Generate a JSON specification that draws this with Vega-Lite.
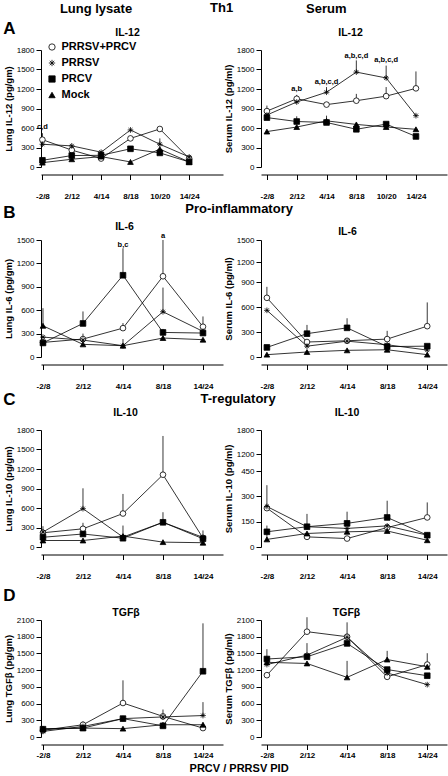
{
"$schema":"https://vega.github.io/schema/vega-lite/v6.json",
"padding":{"top":2,"left":3,"right":1,"bottom":1},
"title":{"text":"Th1","fontSize":13,"anchor":"middle","frame":"bounds","dx":-3.5,"offset":-11.9},
"bounds":"flush",
"spacing":190,
"resolve":{"scale":{"fill":"independent","shape":"independent","stroke":"independent"},"legend":{"fill":"independent","shape":"independent","stroke":"independent"}},
"config":{
 "font":"Liberation Sans",
 "view":{"stroke":null},
 "axis":{"grid":false,"domainColor":"black","tickColor":"black","labelColor":"black","titleColor":"black","domainWidth":1,"tickWidth":1},
 "axisY":{"tickSize":5,"labelPadding":2,"titlePadding":3,"labelFontSize":8,"titleFontSize":9.5,"titleFontWeight":"bold","format":"d"},
 "axisBottom":{"offset":7.5,"tickSize":5,"labelPadding":13,"labelFontSize":8,"labelFontWeight":"bold","labelAngle":0},
 "axisTop":{"labels":false,"ticks":false,"domain":false,"titleFontSize":10.5,"titleFontWeight":"bold","titleBaseline":"middle","titleAlign":"center"},
 "title":{"fontWeight":"bold","color":"black","baseline":"alphabetic"}
},
"datasets":{
 "A_lung":[
  {"t":"-2/8","g":"PRRSV+PRCV","v":420,"hi":520},{"t":"2/12","g":"PRRSV+PRCV","v":260},{"t":"4/14","g":"PRRSV+PRCV","v":130},{"t":"8/18","g":"PRRSV+PRCV","v":440},{"t":"10/20","g":"PRRSV+PRCV","v":585},{"t":"14/24","g":"PRRSV+PRCV","v":130,"hi":170},
  {"t":"-2/8","g":"PRRSV","v":350},{"t":"2/12","g":"PRRSV","v":325},{"t":"4/14","g":"PRRSV","v":228},{"t":"8/18","g":"PRRSV","v":570},{"t":"10/20","g":"PRRSV","v":350,"hi":440},{"t":"14/24","g":"PRRSV","v":155},
  {"t":"-2/8","g":"PRCV","v":103},{"t":"2/12","g":"PRCV","v":176},{"t":"4/14","g":"PRCV","v":180},{"t":"8/18","g":"PRCV","v":280},{"t":"10/20","g":"PRCV","v":217},{"t":"14/24","g":"PRCV","v":78},
  {"t":"-2/8","g":"Mock","v":67},{"t":"2/12","g":"Mock","v":119},{"t":"4/14","g":"Mock","v":160},{"t":"8/18","g":"Mock","v":78},{"t":"10/20","g":"Mock","v":275},{"t":"14/24","g":"Mock","v":78}
 ],
 "A_lung_notes":[{"t":"-2/8","v":620,"label":"c,d"}],
 "A_serum":[
  {"t":"-2/8","g":"PRRSV+PRCV","v":860,"hi":945},{"t":"2/12","g":"PRRSV+PRCV","v":1050,"hi":1110},{"t":"4/14","g":"PRRSV+PRCV","v":960},{"t":"8/18","g":"PRRSV+PRCV","v":1020,"hi":1125},{"t":"10/20","g":"PRRSV+PRCV","v":1090,"hi":1230},{"t":"14/24","g":"PRRSV+PRCV","v":1210,"hi":1470},
  {"t":"-2/8","g":"PRRSV","v":800},{"t":"2/12","g":"PRRSV","v":1000},{"t":"4/14","g":"PRRSV","v":1150,"hi":1230},{"t":"8/18","g":"PRRSV","v":1460,"hi":1640},{"t":"10/20","g":"PRRSV","v":1370,"hi":1560},{"t":"14/24","g":"PRRSV","v":790},
  {"t":"-2/8","g":"PRCV","v":760},{"t":"2/12","g":"PRCV","v":700,"hi":780},{"t":"4/14","g":"PRCV","v":685},{"t":"8/18","g":"PRCV","v":580},{"t":"10/20","g":"PRCV","v":660},{"t":"14/24","g":"PRCV","v":470},
  {"t":"-2/8","g":"Mock","v":545},{"t":"2/12","g":"Mock","v":615},{"t":"4/14","g":"Mock","v":710,"hi":790},{"t":"8/18","g":"Mock","v":655},{"t":"10/20","g":"Mock","v":615},{"t":"14/24","g":"Mock","v":580}
 ],
 "A_serum_notes":[{"t":"2/12","v":1200,"label":"a,b"},{"t":"4/14","v":1314,"label":"a,b,c,d"},{"t":"8/18","v":1713,"label":"a,b,c,d"},{"t":"10/20","v":1651,"label":"a,b,c,d"}],
 "B_lung":[
  {"t":"-2/8","g":"PRRSV+PRCV","v":187},{"t":"2/12","g":"PRRSV+PRCV","v":230,"hi":300},{"t":"4/14","g":"PRRSV+PRCV","v":370,"hi":435},{"t":"8/18","g":"PRRSV+PRCV","v":1035,"hi":1500},{"t":"14/24","g":"PRRSV+PRCV","v":388,"hi":520},
  {"t":"-2/8","g":"PRRSV","v":255},{"t":"2/12","g":"PRRSV","v":217},{"t":"4/14","g":"PRRSV","v":145},{"t":"8/18","g":"PRRSV","v":580,"hi":890},{"t":"14/24","g":"PRRSV","v":328},
  {"t":"-2/8","g":"PRCV","v":180},{"t":"2/12","g":"PRCV","v":430,"hi":584},{"t":"4/14","g":"PRCV","v":1048,"hi":1393},{"t":"8/18","g":"PRCV","v":315,"hi":360},{"t":"14/24","g":"PRCV","v":307},
  {"t":"-2/8","g":"Mock","v":400,"hi":626},{"t":"2/12","g":"Mock","v":162},{"t":"4/14","g":"Mock","v":145,"hi":230},{"t":"8/18","g":"Mock","v":243},{"t":"14/24","g":"Mock","v":222}
 ],
 "B_lung_notes":[{"t":"4/14","v":1436,"label":"b,c"},{"t":"8/18","v":1545,"label":"a"}],
 "B_serum":[
  {"t":"-2/8","g":"PRRSV+PRCV","v":710,"hi":842},{"t":"2/12","g":"PRRSV+PRCV","v":180},{"t":"4/14","g":"PRRSV+PRCV","v":195},{"t":"8/18","g":"PRRSV+PRCV","v":215,"hi":314},{"t":"14/24","g":"PRRSV+PRCV","v":370,"hi":655},
  {"t":"-2/8","g":"PRRSV","v":560},{"t":"2/12","g":"PRRSV","v":130},{"t":"4/14","g":"PRRSV","v":190},{"t":"8/18","g":"PRRSV","v":147},{"t":"14/24","g":"PRRSV","v":83},
  {"t":"-2/8","g":"PRCV","v":115},{"t":"2/12","g":"PRCV","v":280,"hi":385},{"t":"4/14","g":"PRCV","v":350,"hi":465},{"t":"8/18","g":"PRCV","v":125},{"t":"14/24","g":"PRCV","v":130},
  {"t":"-2/8","g":"Mock","v":28},{"t":"2/12","g":"Mock","v":60},{"t":"4/14","g":"Mock","v":80},{"t":"8/18","g":"Mock","v":87},{"t":"14/24","g":"Mock","v":28}
 ],
 "C_lung":[
  {"t":"-2/8","g":"PRRSV+PRCV","v":219},{"t":"2/12","g":"PRRSV+PRCV","v":280,"hi":372},{"t":"4/14","g":"PRRSV+PRCV","v":515,"hi":816},{"t":"8/18","g":"PRRSV+PRCV","v":1112,"hi":1708},{"t":"14/24","g":"PRRSV+PRCV","v":138,"hi":255},
  {"t":"-2/8","g":"PRRSV","v":230,"hi":320},{"t":"2/12","g":"PRRSV","v":590,"hi":903},{"t":"4/14","g":"PRRSV","v":153},{"t":"8/18","g":"PRRSV","v":380},{"t":"14/24","g":"PRRSV","v":148},
  {"t":"-2/8","g":"PRCV","v":150},{"t":"2/12","g":"PRCV","v":200},{"t":"4/14","g":"PRCV","v":135,"hi":330},{"t":"8/18","g":"PRCV","v":380,"hi":535},{"t":"14/24","g":"PRCV","v":127},
  {"t":"-2/8","g":"Mock","v":100},{"t":"2/12","g":"Mock","v":100},{"t":"4/14","g":"Mock","v":168},{"t":"8/18","g":"Mock","v":75},{"t":"14/24","g":"Mock","v":66}
 ],
 "C_serum":[
  {"t":"-2/8","g":"PRRSV+PRCV","v":230,"hi":366},{"t":"2/12","g":"PRRSV+PRCV","v":60},{"t":"4/14","g":"PRRSV+PRCV","v":50},{"t":"8/18","g":"PRRSV+PRCV","v":115},{"t":"14/24","g":"PRRSV+PRCV","v":175,"hi":264},
  {"t":"-2/8","g":"PRRSV","v":240},{"t":"2/12","g":"PRRSV","v":120},{"t":"4/14","g":"PRRSV","v":110},{"t":"8/18","g":"PRRSV","v":125},{"t":"14/24","g":"PRRSV","v":70},
  {"t":"-2/8","g":"PRCV","v":90},{"t":"2/12","g":"PRCV","v":120,"hi":196},{"t":"4/14","g":"PRCV","v":140,"hi":209},{"t":"8/18","g":"PRCV","v":175,"hi":274},{"t":"14/24","g":"PRCV","v":70},
  {"t":"-2/8","g":"Mock","v":45,"hi":127},{"t":"2/12","g":"Mock","v":80},{"t":"4/14","g":"Mock","v":90},{"t":"8/18","g":"Mock","v":95},{"t":"14/24","g":"Mock","v":40}
 ],
 "D_lung":[
  {"t":"-2/8","g":"PRRSV+PRCV","v":120},{"t":"2/12","g":"PRRSV+PRCV","v":220,"hi":280},{"t":"4/14","g":"PRRSV+PRCV","v":610,"hi":1017},{"t":"8/18","g":"PRRSV+PRCV","v":370,"hi":493},{"t":"14/24","g":"PRRSV+PRCV","v":160},
  {"t":"-2/8","g":"PRRSV","v":100},{"t":"2/12","g":"PRRSV","v":190},{"t":"4/14","g":"PRRSV","v":330},{"t":"8/18","g":"PRRSV","v":360},{"t":"14/24","g":"PRRSV","v":385,"hi":626},
  {"t":"-2/8","g":"PRCV","v":140},{"t":"2/12","g":"PRCV","v":160},{"t":"4/14","g":"PRCV","v":330},{"t":"8/18","g":"PRCV","v":200},{"t":"14/24","g":"PRCV","v":1180,"hi":2040},
  {"t":"-2/8","g":"Mock","v":150},{"t":"2/12","g":"Mock","v":160},{"t":"4/14","g":"Mock","v":150},{"t":"8/18","g":"Mock","v":220},{"t":"14/24","g":"Mock","v":220,"hi":260}
 ],
 "D_serum":[
  {"t":"-2/8","g":"PRRSV+PRCV","v":1110},{"t":"2/12","g":"PRRSV+PRCV","v":1890,"hi":2150},{"t":"4/14","g":"PRRSV+PRCV","v":1800,"hi":2058},{"t":"8/18","g":"PRRSV+PRCV","v":1080},{"t":"14/24","g":"PRRSV+PRCV","v":1300,"hi":1504},
  {"t":"-2/8","g":"PRRSV","v":1300},{"t":"2/12","g":"PRRSV","v":1470},{"t":"4/14","g":"PRRSV","v":1790},{"t":"8/18","g":"PRRSV","v":1150},{"t":"14/24","g":"PRRSV","v":940},
  {"t":"-2/8","g":"PRCV","v":1400,"hi":1576},{"t":"2/12","g":"PRCV","v":1440,"hi":1685},{"t":"4/14","g":"PRCV","v":1680},{"t":"8/18","g":"PRCV","v":1210},{"t":"14/24","g":"PRCV","v":1100},
  {"t":"-2/8","g":"Mock","v":1340},{"t":"2/12","g":"Mock","v":1320},{"t":"4/14","g":"Mock","v":1070,"hi":1366},{"t":"8/18","g":"Mock","v":1390,"hi":1546},{"t":"14/24","g":"Mock","v":1260}
 ]
},
"vconcat":[
 {
  "title":{"text":"A","fontSize":17,"anchor":"start","frame":"bounds","offset":-34.7},
  "bounds":"flush","spacing":38,
  "resolve":{"scale":{"fill":"independent","shape":"independent","stroke":"independent"},"legend":{"fill":"independent","shape":"independent","stroke":"independent"}},
  "hconcat":[
   {
    "width":182,"height":117,
    "title":{"text":"Lung lysate","fontSize":13,"anchor":"middle","frame":"group","dx":-36,"offset":10.75},
    "encoding":{"y":{"field":"v","type":"quantitative","scale":{"domain":[0,1800],"nice":false},"axis":{"title":"Lung IL-12 (pg/gm)","values":[0,300,600,900,1200,1500,1800]}}},
    "resolve":{"axis":{"x":"independent"}},
    "layer":[
     {"data":{"name":"A_lung"},"transform":[{"filter":"isValid(datum.hi)"}],"mark":{"type":"rule","color":"#222","strokeWidth":0.9},
      "encoding":{"x":{"field":"t","type":"ordinal","scale":{"type":"point","domain":["-2/8","2/12","4/14","8/18","10/20","14/24"],"padding":0.6,"align":0.04},"axis":null},"y2":{"field":"hi"}}},
     {"data":{"name":"A_lung"},"mark":{"type":"line","color":"black","strokeWidth":0.8},
      "encoding":{"x":{"field":"t","type":"ordinal","scale":{"type":"point","domain":["-2/8","2/12","4/14","8/18","10/20","14/24"],"padding":0.6,"align":0.04},"axis":{"orient":"bottom","title":null}},"detail":{"field":"g"},"order":{"value":null}}},
     {"data":{"name":"A_lung"},"mark":{"type":"point","filled":true,"size":32,"strokeWidth":0.8,"opacity":1},
      "encoding":{"x":{"field":"t","type":"ordinal","scale":{"type":"point","domain":["-2/8","2/12","4/14","8/18","10/20","14/24"],"padding":0.6,"align":0.04},"axis":{"orient":"top","title":"IL-12","titleX":86,"titleY":-18}},
       "fill":{"field":"g","type":"nominal","scale":{"domain":["PRRSV+PRCV","PRRSV","PRCV","Mock"],"range":["white","black","black","black"]},"legend":{"title":null,"orient":"none","legendX":5.5,"legendY":-8.5,"labelFontSize":11,"labelFontWeight":"bold","labelColor":"black","symbolSize":40,"symbolStrokeWidth":0.8,"rowPadding":4,"labelOffset":4,"padding":0}},
       "stroke":{"field":"g","type":"nominal","scale":{"domain":["PRRSV+PRCV","PRRSV","PRCV","Mock"],"range":["black","black","black","black"]},"legend":{"title":null,"orient":"none","legendX":5.5,"legendY":-8.5,"labelFontSize":11,"labelFontWeight":"bold","labelColor":"black","symbolSize":40,"symbolStrokeWidth":0.8,"rowPadding":4,"labelOffset":4,"padding":0}},
       "shape":{"field":"g","type":"nominal","scale":{"domain":["PRRSV+PRCV","PRRSV","PRCV","Mock"],"range":["circle","M0,-1L0,1M-1,0L1,0M-0.7,-0.7L0.7,0.7M-0.7,0.7L0.7,-0.7","square","triangle-up"]},"legend":{"title":null,"orient":"none","legendX":5.5,"legendY":-8.5,"labelFontSize":11,"labelFontWeight":"bold","labelColor":"black","symbolSize":40,"symbolStrokeWidth":0.8,"rowPadding":4,"labelOffset":4,"padding":0}}}},
     {"data":{"name":"A_lung_notes"},"mark":{"type":"text","fontSize":7.5,"fontWeight":"bold","baseline":"middle","color":"black"},
      "encoding":{"x":{"field":"t","type":"ordinal","scale":{"type":"point","domain":["-2/8","2/12","4/14","8/18","10/20","14/24"],"padding":0.6,"align":0.04},"axis":null},"text":{"field":"label"}}}
    ]
   },
   {
    "width":186,"height":117,
    "title":{"text":"Serum","fontSize":13,"anchor":"middle","frame":"group","dx":-27.7,"offset":10.75},
    "encoding":{"y":{"field":"v","type":"quantitative","scale":{"domain":[0,1800],"nice":false},"axis":{"title":"Serum IL-12 (pg/ml)","values":[0,300,600,900,1200,1500,1800]}}},
    "resolve":{"axis":{"x":"independent"}},
    "layer":[
     {"data":{"name":"A_serum"},"transform":[{"filter":"isValid(datum.hi)"}],"mark":{"type":"rule","color":"#222","strokeWidth":0.9},
      "encoding":{"x":{"field":"t","type":"ordinal","scale":{"type":"point","domain":["-2/8","2/12","4/14","8/18","10/20","14/24"],"padding":0.62,"align":0.16},"axis":null},"y2":{"field":"hi"}}},
     {"data":{"name":"A_serum"},"mark":{"type":"line","color":"black","strokeWidth":0.8},
      "encoding":{"x":{"field":"t","type":"ordinal","scale":{"type":"point","domain":["-2/8","2/12","4/14","8/18","10/20","14/24"],"padding":0.62,"align":0.16},"axis":{"orient":"bottom","title":null}},"detail":{"field":"g"},"order":{"value":null}}},
     {"data":{"name":"A_serum"},"mark":{"type":"point","filled":true,"size":32,"stroke":"black","strokeWidth":0.8,"opacity":1},
      "encoding":{"x":{"field":"t","type":"ordinal","scale":{"type":"point","domain":["-2/8","2/12","4/14","8/18","10/20","14/24"],"padding":0.62,"align":0.16},"axis":{"orient":"top","title":"IL-12","titleX":89,"titleY":-18}},
       "fill":{"field":"g","type":"nominal","scale":{"domain":["PRRSV+PRCV","PRRSV","PRCV","Mock"],"range":["white","black","black","black"]},"legend":null},
       "shape":{"field":"g","type":"nominal","scale":{"domain":["PRRSV+PRCV","PRRSV","PRCV","Mock"],"range":["circle","M0,-1L0,1M-1,0L1,0M-0.7,-0.7L0.7,0.7M-0.7,0.7L0.7,-0.7","square","triangle-up"]},"legend":null}}},
     {"data":{"name":"A_serum_notes"},"mark":{"type":"text","fontSize":7.5,"fontWeight":"bold","baseline":"middle","color":"black"},
      "encoding":{"x":{"field":"t","type":"ordinal","scale":{"type":"point","domain":["-2/8","2/12","4/14","8/18","10/20","14/24"],"padding":0.62,"align":0.16},"axis":null},"text":{"field":"label"}}}
    ]
   }
  ]
 },
 {
  "title":{"text":"Pro-inflammatory","fontSize":13,"anchor":"middle","frame":"bounds","dx":14,"offset":-12.6},
  "bounds":"flush","spacing":38,
  "resolve":{"scale":{"fill":"independent","shape":"independent"},"legend":{"fill":"independent","shape":"independent"}},
  "hconcat":[
   {
    "width":182,"height":117,
    "title":{"text":"B","fontSize":17,"anchor":"start","frame":"bounds","offset":0},
    "encoding":{"y":{"field":"v","type":"quantitative","scale":{"domain":[0,1500],"nice":false},"axis":{"title":"Lung IL-6 (pg/gm)","values":[0,300,600,900,1200,1500]}}},
    "resolve":{"axis":{"x":"independent"}},
    "layer":[
     {"data":{"name":"B_lung"},"transform":[{"filter":"isValid(datum.hi)"}],"mark":{"type":"rule","color":"#222","strokeWidth":0.9},
      "encoding":{"x":{"field":"t","type":"ordinal","scale":{"type":"point","domain":["-2/8","2/12","4/14","8/18","14/24"],"padding":0.275,"align":0.09},"axis":null},"y2":{"field":"hi"}}},
     {"data":{"name":"B_lung"},"mark":{"type":"line","color":"black","strokeWidth":0.8},
      "encoding":{"x":{"field":"t","type":"ordinal","scale":{"type":"point","domain":["-2/8","2/12","4/14","8/18","14/24"],"padding":0.275,"align":0.09},"axis":{"orient":"bottom","title":null}},"detail":{"field":"g"},"order":{"value":null}}},
     {"data":{"name":"B_lung"},"mark":{"type":"point","filled":true,"size":32,"stroke":"black","strokeWidth":0.8,"opacity":1},
      "encoding":{"x":{"field":"t","type":"ordinal","scale":{"type":"point","domain":["-2/8","2/12","4/14","8/18","14/24"],"padding":0.275,"align":0.09},"axis":{"orient":"top","title":"IL-6","titleX":83,"titleY":-13.5}},
       "fill":{"field":"g","type":"nominal","scale":{"domain":["PRRSV+PRCV","PRRSV","PRCV","Mock"],"range":["white","black","black","black"]},"legend":null},
       "shape":{"field":"g","type":"nominal","scale":{"domain":["PRRSV+PRCV","PRRSV","PRCV","Mock"],"range":["circle","M0,-1L0,1M-1,0L1,0M-0.7,-0.7L0.7,0.7M-0.7,0.7L0.7,-0.7","square","triangle-up"]},"legend":null}}},
     {"data":{"name":"B_lung_notes"},"mark":{"type":"text","fontSize":7.5,"fontWeight":"bold","baseline":"middle","color":"black"},
      "encoding":{"x":{"field":"t","type":"ordinal","scale":{"type":"point","domain":["-2/8","2/12","4/14","8/18","14/24"],"padding":0.275,"align":0.09},"axis":null},"text":{"field":"label"}}}
    ]
   },
   {
    "width":186,"height":117,
    "encoding":{"y":{"field":"v","type":"quantitative","scale":{"domain":[0,900,1200,1500],"range":[117,42,22,0],"nice":false,"zero":false},"axis":{"title":"Serum IL-6 (pg/ml)","values":[0,300,600,900,1200,1500]}}},
    "resolve":{"axis":{"x":"independent"}},
    "layer":[
     {"data":{"name":"B_serum"},"transform":[{"filter":"isValid(datum.hi)"}],"mark":{"type":"rule","color":"#222","strokeWidth":0.9},
      "encoding":{"x":{"field":"t","type":"ordinal","scale":{"type":"point","domain":["-2/8","2/12","4/14","8/18","14/24"],"padding":0.32,"align":0.23},"axis":null},"y2":{"field":"hi"}}},
     {"data":{"name":"B_serum"},"mark":{"type":"line","color":"black","strokeWidth":0.8},
      "encoding":{"x":{"field":"t","type":"ordinal","scale":{"type":"point","domain":["-2/8","2/12","4/14","8/18","14/24"],"padding":0.32,"align":0.23},"axis":{"orient":"bottom","title":null}},"detail":{"field":"g"},"order":{"value":null}}},
     {"data":{"name":"B_serum"},"mark":{"type":"point","filled":true,"size":32,"stroke":"black","strokeWidth":0.8,"opacity":1},
      "encoding":{"x":{"field":"t","type":"ordinal","scale":{"type":"point","domain":["-2/8","2/12","4/14","8/18","14/24"],"padding":0.32,"align":0.23},"axis":{"orient":"top","title":"IL-6","titleX":86,"titleY":-9}},
       "fill":{"field":"g","type":"nominal","scale":{"domain":["PRRSV+PRCV","PRRSV","PRCV","Mock"],"range":["white","black","black","black"]},"legend":null},
       "shape":{"field":"g","type":"nominal","scale":{"domain":["PRRSV+PRCV","PRRSV","PRCV","Mock"],"range":["circle","M0,-1L0,1M-1,0L1,0M-0.7,-0.7L0.7,0.7M-0.7,0.7L0.7,-0.7","square","triangle-up"]},"legend":null}}}
    ]
   }
  ]
 },
 {
  "title":{"text":"T-regulatory","fontSize":13,"anchor":"middle","frame":"bounds","dx":13,"offset":-14.6},
  "bounds":"flush","spacing":38,
  "resolve":{"scale":{"fill":"independent","shape":"independent"},"legend":{"fill":"independent","shape":"independent"}},
  "hconcat":[
   {
    "width":182,"height":117,
    "title":{"text":"C","fontSize":17,"anchor":"start","frame":"bounds","offset":-2},
    "encoding":{"y":{"field":"v","type":"quantitative","scale":{"domain":[0,1800],"nice":false},"axis":{"title":"Lung IL-10 (pg/gm)","values":[0,300,600,900,1200,1500,1800]}}},
    "resolve":{"axis":{"x":"independent"}},
    "layer":[
     {"data":{"name":"C_lung"},"transform":[{"filter":"isValid(datum.hi)"}],"mark":{"type":"rule","color":"#222","strokeWidth":0.9},
      "encoding":{"x":{"field":"t","type":"ordinal","scale":{"type":"point","domain":["-2/8","2/12","4/14","8/18","14/24"],"padding":0.275,"align":0.09},"axis":null},"y2":{"field":"hi"}}},
     {"data":{"name":"C_lung"},"mark":{"type":"line","color":"black","strokeWidth":0.8},
      "encoding":{"x":{"field":"t","type":"ordinal","scale":{"type":"point","domain":["-2/8","2/12","4/14","8/18","14/24"],"padding":0.275,"align":0.09},"axis":{"orient":"bottom","title":null}},"detail":{"field":"g"},"order":{"value":null}}},
     {"data":{"name":"C_lung"},"mark":{"type":"point","filled":true,"size":32,"stroke":"black","strokeWidth":0.8,"opacity":1},
      "encoding":{"x":{"field":"t","type":"ordinal","scale":{"type":"point","domain":["-2/8","2/12","4/14","8/18","14/24"],"padding":0.275,"align":0.09},"axis":{"orient":"top","title":"IL-10","titleX":84,"titleY":-18}},
       "fill":{"field":"g","type":"nominal","scale":{"domain":["PRRSV+PRCV","PRRSV","PRCV","Mock"],"range":["white","black","black","black"]},"legend":null},
       "shape":{"field":"g","type":"nominal","scale":{"domain":["PRRSV+PRCV","PRRSV","PRCV","Mock"],"range":["circle","M0,-1L0,1M-1,0L1,0M-0.7,-0.7L0.7,0.7M-0.7,0.7L0.7,-0.7","square","triangle-up"]},"legend":null}}}
    ]
   },
   {
    "width":186,"height":117,
    "encoding":{"y":{"field":"v","type":"quantitative","scale":{"domain":[0,450,1200,1800],"range":[117,41,24,0],"nice":false,"zero":false},"axis":{"title":"Serum IL-10 (pg/ml)","values":[0,150,300,450,1200,1800]}}},
    "resolve":{"axis":{"x":"independent"}},
    "layer":[
     {"data":{"name":"C_serum"},"transform":[{"filter":"isValid(datum.hi)"}],"mark":{"type":"rule","color":"#222","strokeWidth":0.9},
      "encoding":{"x":{"field":"t","type":"ordinal","scale":{"type":"point","domain":["-2/8","2/12","4/14","8/18","14/24"],"padding":0.32,"align":0.23},"axis":null},"y2":{"field":"hi"}}},
     {"data":{"name":"C_serum"},"mark":{"type":"line","color":"black","strokeWidth":0.8},
      "encoding":{"x":{"field":"t","type":"ordinal","scale":{"type":"point","domain":["-2/8","2/12","4/14","8/18","14/24"],"padding":0.32,"align":0.23},"axis":{"orient":"bottom","title":null}},"detail":{"field":"g"},"order":{"value":null}}},
     {"data":{"name":"C_serum"},"mark":{"type":"point","filled":true,"size":32,"stroke":"black","strokeWidth":0.8,"opacity":1},
      "encoding":{"x":{"field":"t","type":"ordinal","scale":{"type":"point","domain":["-2/8","2/12","4/14","8/18","14/24"],"padding":0.32,"align":0.23},"axis":{"orient":"top","title":"IL-10","titleX":85.5,"titleY":-18}},
       "fill":{"field":"g","type":"nominal","scale":{"domain":["PRRSV+PRCV","PRRSV","PRCV","Mock"],"range":["white","black","black","black"]},"legend":null},
       "shape":{"field":"g","type":"nominal","scale":{"domain":["PRRSV+PRCV","PRRSV","PRCV","Mock"],"range":["circle","M0,-1L0,1M-1,0L1,0M-0.7,-0.7L0.7,0.7M-0.7,0.7L0.7,-0.7","square","triangle-up"]},"legend":null}}}
    ]
   }
  ]
 },
 {
  "title":{"text":"PRCV / PRRSV PID","orient":"bottom","fontSize":11,"anchor":"middle","frame":"bounds","dx":14,"offset":3},
  "bounds":"flush","spacing":38,
  "resolve":{"scale":{"fill":"independent","shape":"independent"},"legend":{"fill":"independent","shape":"independent"}},
  "hconcat":[
   {
    "width":182,"height":117,
    "title":{"text":"D","fontSize":17,"anchor":"start","frame":"bounds","offset":2},
    "encoding":{"y":{"field":"v","type":"quantitative","scale":{"domain":[0,2100],"nice":false},"axis":{"title":"Lung TGFβ (pg/gm)","values":[0,300,600,900,1200,1500,1800,2100]}}},
    "resolve":{"axis":{"x":"independent"}},
    "layer":[
     {"data":{"name":"D_lung"},"transform":[{"filter":"isValid(datum.hi)"}],"mark":{"type":"rule","color":"#222","strokeWidth":0.9},
      "encoding":{"x":{"field":"t","type":"ordinal","scale":{"type":"point","domain":["-2/8","2/12","4/14","8/18","14/24"],"padding":0.275,"align":0.09},"axis":null},"y2":{"field":"hi"}}},
     {"data":{"name":"D_lung"},"mark":{"type":"line","color":"black","strokeWidth":0.8},
      "encoding":{"x":{"field":"t","type":"ordinal","scale":{"type":"point","domain":["-2/8","2/12","4/14","8/18","14/24"],"padding":0.275,"align":0.09},"axis":{"orient":"bottom","title":null,"labelPadding":2}},"detail":{"field":"g"},"order":{"value":null}}},
     {"data":{"name":"D_lung"},"mark":{"type":"point","filled":true,"size":32,"stroke":"black","strokeWidth":0.8,"opacity":1},
      "encoding":{"x":{"field":"t","type":"ordinal","scale":{"type":"point","domain":["-2/8","2/12","4/14","8/18","14/24"],"padding":0.275,"align":0.09},"axis":{"orient":"top","title":"TGFβ","titleX":84.5,"titleY":-8}},
       "fill":{"field":"g","type":"nominal","scale":{"domain":["PRRSV+PRCV","PRRSV","PRCV","Mock"],"range":["white","black","black","black"]},"legend":null},
       "shape":{"field":"g","type":"nominal","scale":{"domain":["PRRSV+PRCV","PRRSV","PRCV","Mock"],"range":["circle","M0,-1L0,1M-1,0L1,0M-0.7,-0.7L0.7,0.7M-0.7,0.7L0.7,-0.7","square","triangle-up"]},"legend":null}}}
    ]
   },
   {
    "width":186,"height":117,
    "encoding":{"y":{"field":"v","type":"quantitative","scale":{"domain":[0,2100],"nice":false},"axis":{"title":"Serum TGFβ (pg/ml)","values":[0,300,600,900,1200,1500,1800,2100]}}},
    "resolve":{"axis":{"x":"independent"}},
    "layer":[
     {"data":{"name":"D_serum"},"transform":[{"filter":"isValid(datum.hi)"}],"mark":{"type":"rule","color":"#222","strokeWidth":0.9},
      "encoding":{"x":{"field":"t","type":"ordinal","scale":{"type":"point","domain":["-2/8","2/12","4/14","8/18","14/24"],"padding":0.32,"align":0.23},"axis":null},"y2":{"field":"hi"}}},
     {"data":{"name":"D_serum"},"mark":{"type":"line","color":"black","strokeWidth":0.8},
      "encoding":{"x":{"field":"t","type":"ordinal","scale":{"type":"point","domain":["-2/8","2/12","4/14","8/18","14/24"],"padding":0.32,"align":0.23},"axis":{"orient":"bottom","title":null,"labelPadding":2}},"detail":{"field":"g"},"order":{"value":null}}},
     {"data":{"name":"D_serum"},"mark":{"type":"point","filled":true,"size":32,"stroke":"black","strokeWidth":0.8,"opacity":1},
      "encoding":{"x":{"field":"t","type":"ordinal","scale":{"type":"point","domain":["-2/8","2/12","4/14","8/18","14/24"],"padding":0.32,"align":0.23},"axis":{"orient":"top","title":"TGFβ","titleX":85,"titleY":-8}},
       "fill":{"field":"g","type":"nominal","scale":{"domain":["PRRSV+PRCV","PRRSV","PRCV","Mock"],"range":["white","black","black","black"]},"legend":null},
       "shape":{"field":"g","type":"nominal","scale":{"domain":["PRRSV+PRCV","PRRSV","PRCV","Mock"],"range":["circle","M0,-1L0,1M-1,0L1,0M-0.7,-0.7L0.7,0.7M-0.7,0.7L0.7,-0.7","square","triangle-up"]},"legend":null}}}
    ]
   }
  ]
 }
]
}
